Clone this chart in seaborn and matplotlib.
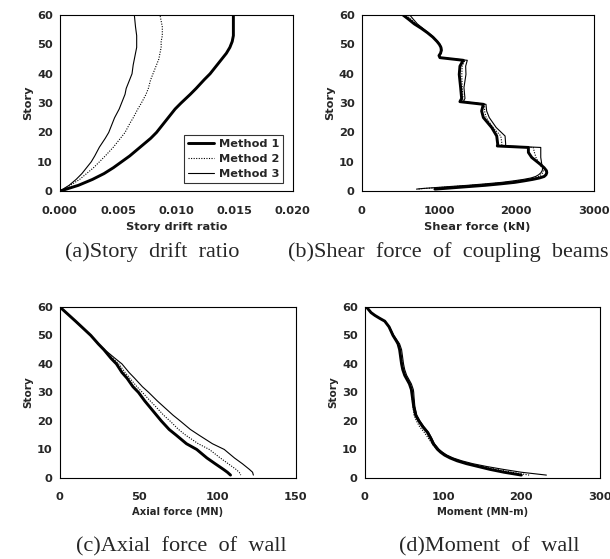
"""
Story response profiles of the coupled wall: three analysis methods.
"""
import pandas as pd
import seaborn as sns
import matplotlib.pyplot as plt

METHODS = ['Method 1', 'Method 2', 'Method 3']

# (a) story drift ratio
drift_story = [0, 2, 4, 6, 8, 10, 12, 15, 18, 20, 23, 25, 28, 30, 33, 35, 38,
               40, 43, 45, 47, 49, 51, 53, 56, 60]
drift_m1 = [0.0, 0.0016, 0.0028, 0.0038, 0.0046, 0.0053, 0.0060, 0.0069,
            0.0078, 0.0083, 0.0089, 0.0093, 0.0099, 0.0104, 0.0112, 0.0117,
            0.0124, 0.0129, 0.0135, 0.0139, 0.0143, 0.0146, 0.0148, 0.0149,
            0.0149, 0.0149]
drift_m2 = [0.0, 0.0009, 0.0017, 0.0023, 0.0029, 0.0034, 0.0039, 0.0046,
            0.0052, 0.0056, 0.0060, 0.0063, 0.0067, 0.0070, 0.0074, 0.0076,
            0.0078, 0.0080, 0.0083, 0.0085, 0.0086, 0.0087, 0.0087, 0.0088,
            0.0088, 0.0086]
drift_m3 = [0.0, 0.0008, 0.0014, 0.0019, 0.0023, 0.0027, 0.0030, 0.0034,
            0.0039, 0.0042, 0.0045, 0.0047, 0.0051, 0.0053, 0.0056, 0.0057,
            0.0060, 0.0062, 0.0063, 0.0064, 0.0065, 0.0066, 0.0066, 0.0066,
            0.0065, 0.0064]

# (b) shear force of coupling beams (kN)
shear_story = [60, 58.5, 57, 55.5, 54, 52.5, 51, 50, 49, 48, 47, 46.2, 45.5,
               44.6, 42.6, 39.8, 35.3, 31.6, 30.5, 29.6, 27.3, 25.1, 21.7,
               18.8, 16, 15.4, 14.9, 13.2, 11.5, 9.2, 8, 7, 6.3, 5.6, 5, 4.5,
               4, 3.5, 3, 2.5, 2, 1.6, 1.2, 0.9, 0.7]
shear_m1 = [536, 610, 680, 770, 850, 920, 975, 1005, 1025, 1030, 1020, 1000,
            1012, 1314, 1271, 1262, 1280, 1293, 1271, 1574, 1552, 1574, 1682,
            1747, 1760, 1755, 2157, 2157, 2200, 2309, 2360, 2390, 2395, 2385,
            2360, 2300, 2210, 2100, 1980, 1800, 1600, 1400, 1200, 1050, 947]
shear_m2 = [580, 640, 700, 780, 855, 925, 978, 1008, 1028, 1033, 1023, 1003,
            1016, 1335, 1300, 1295, 1300, 1312, 1295, 1590, 1590, 1610, 1700,
            1800, 1815, 1810, 2220, 2235, 2255, 2300, 2335, 2350, 2345, 2320,
            2290, 2230, 2140, 2010, 1870, 1660, 1420, 1200, 980, 800, 720]
shear_m3 = [623, 670, 720, 790, 860, 930, 982, 1012, 1032, 1037, 1027, 1006,
            1020, 1366, 1345, 1349, 1323, 1336, 1315, 1608, 1617, 1650, 1740,
            1855, 1863, 1860, 2317, 2317, 2317, 2330, 2345, 2335, 2320, 2290,
            2250, 2190, 2090, 1960, 1810, 1600, 1370, 1150, 940, 780, 709]

# (c) axial force of wall (MN)
axial_story = [60, 55, 50, 47, 45, 42, 40, 37, 35, 32, 30, 27, 25, 22, 20, 17,
               15, 12, 10, 7, 5, 3, 2, 1]
axial_m1 = [0, 10, 19.7, 24.5, 28, 32.5, 36, 39.5, 42.7, 46.5, 50, 54, 57,
            61.5, 64.5, 69.5, 74, 80.5, 87, 93.5, 98.7, 104, 106.5, 108.5]
axial_m2 = [0, 10, 19.7, 24.5, 28, 33.5, 37.5, 41.5, 44.5, 49, 52.5, 57.5, 61,
            66, 70, 75.5, 80, 88, 95, 102, 107, 112, 114, 115]
axial_m3 = [0, 10, 19.7, 24.5, 28.5, 35, 39.5, 44, 47.5, 52.5, 56.5, 62, 66,
            72, 76.5, 83, 88.5, 97, 104.5, 111, 116, 120.5, 122.5, 123]

# (d) moment of wall (MN-m)
moment_story = [60, 58, 57, 56, 55, 53, 50, 48, 47, 45, 42, 40, 38, 36, 34,
                33, 31, 30, 28, 25, 22, 20, 18, 16, 14, 12, 10, 9, 8, 7, 6, 5,
                4, 3, 2, 1]
moment_m1 = [2, 8, 13, 19, 25.5, 31, 36, 40.5, 42.5, 44.5, 46, 47, 48.5, 51,
             55, 57, 59.5, 60, 61, 62.5, 65, 69, 74, 80, 84, 87.5, 93, 97, 102,
             109, 118, 130, 145, 160, 178, 200]
moment_m2 = [2, 8, 13, 19, 25.5, 31, 36, 40.5, 42.5, 45, 47, 48, 49.5, 52, 56,
             57.5, 59.5, 60, 60.5, 61.5, 63, 66, 70, 76, 81, 86, 92, 97, 102,
             110, 120, 133, 150, 168, 188, 210]
moment_m3 = [2, 8, 13, 19, 25.5, 31.5, 37, 42, 44.5, 47, 48.5, 49.5, 51, 53.5,
             57.5, 59.5, 62, 62.5, 63, 64, 66.5, 70.5, 75.5, 81.5, 85.5, 89,
             95, 99.5, 105, 113, 124, 138, 156, 177, 200, 232]

STYLES = {'Method 1': dict(lw=2.1, ls='-'),
          'Method 2': dict(lw=0.8, ls=(0, (1, 1.3))),
          'Method 3': dict(lw=0.8, ls='-')}


def profile_df(stories, values):
    rows = []
    for m, v in zip(METHODS, values):
        rows.append(pd.DataFrame({'story': stories, 'value': v, 'method': m}))
    return pd.concat(rows, ignore_index=True)


panels = [
    (profile_df(drift_story, [drift_m1, drift_m2, drift_m3]),
     'Story drift ratio', (0, 0.02), [0, 0.005, 0.01, 0.015, 0.02], '{:.3f}'),
    (profile_df(shear_story, [shear_m1, shear_m2, shear_m3]),
     'Shear force (kN)', (0, 3000), [0, 1000, 2000, 3000], '{:.0f}'),
    (profile_df(axial_story, [axial_m1, axial_m2, axial_m3]),
     'Axial force (MN)', (0, 150), [0, 50, 100, 150], '{:.0f}'),
    (profile_df(moment_story, [moment_m1, moment_m2, moment_m3]),
     'Moment (MN-m)', (0, 300), [0, 100, 200, 300], '{:.0f}'),
]

captions = ['(a)Story  drift  ratio', '(b)Shear  force  of  coupling  beams',
            '(c)Axial  force  of  wall', '(d)Moment  of  wall']

# axes boxes in figure fractions (left, bottom, width, height)
boxes = [(0.098, 0.658, 0.382, 0.315), (0.593, 0.658, 0.380, 0.315),
         (0.098, 0.145, 0.387, 0.306), (0.598, 0.145, 0.385, 0.306)]
caption_xy = [(0.250, 0.541), (0.735, 0.541), (0.298, 0.013), (0.802, 0.013)]

sns.set_style('white')
plt.rcParams['font.family'] = ['DejaVu Sans']

fig = plt.figure(figsize=(6.10, 5.59), dpi=100)

for i, (df, xlabel, xlim, xticks, fmt) in enumerate(panels):
    ax = fig.add_axes(boxes[i])
    for m in METHODS:
        sns.lineplot(data=df[df.method == m], x='value', y='story',
                     orient='y', sort=False, estimator=None, color='black',
                     linewidth=STYLES[m]['lw'], linestyle=STYLES[m]['ls'],
                     label=m if i == 0 else None, legend=False, ax=ax)
    ax.set_xlim(*xlim)
    ax.set_ylim(0, 60)
    ax.set_xticks(xticks)
    ax.set_xticklabels([fmt.format(t) for t in xticks])
    ax.set_yticks(range(0, 61, 10))
    small = i >= 2
    ax.tick_params(direction='in', length=3.5, width=0.6, labelsize=8.2)
    ax.tick_params(axis='x', pad=11 if not small else 10)
    ax.tick_params(axis='y', pad=5)
    for lab in ax.get_xticklabels() + ax.get_yticklabels():
        lab.set_fontweight('bold')
    ax.set_xlabel(xlabel, fontsize=8.2 if not small else 7.2,
                  fontweight='bold', labelpad=4)
    ax.set_ylabel('Story', fontsize=8.2 if not small else 7.6,
                  fontweight='bold', labelpad=3)
    for sp in ax.spines.values():
        sp.set_color('black')
        sp.set_linewidth(0.8)
    if i == 0:
        leg = ax.legend(loc='lower right', frameon=True, fancybox=False,
                        fontsize=8.2, handlelength=2.3, borderpad=0.35,
                        labelspacing=0.45, handletextpad=0.4,
                        borderaxespad=0.0, bbox_to_anchor=(0.96, 0.045))
        leg.get_frame().set_edgecolor('black')
        leg.get_frame().set_linewidth(0.8)
        for t in leg.get_texts():
            t.set_fontweight('bold')
    fig.text(*caption_xy[i], captions[i], ha='center', va='baseline',
             fontsize=16, family='Liberation Serif')

fig.savefig('out.png', dpi=100)
